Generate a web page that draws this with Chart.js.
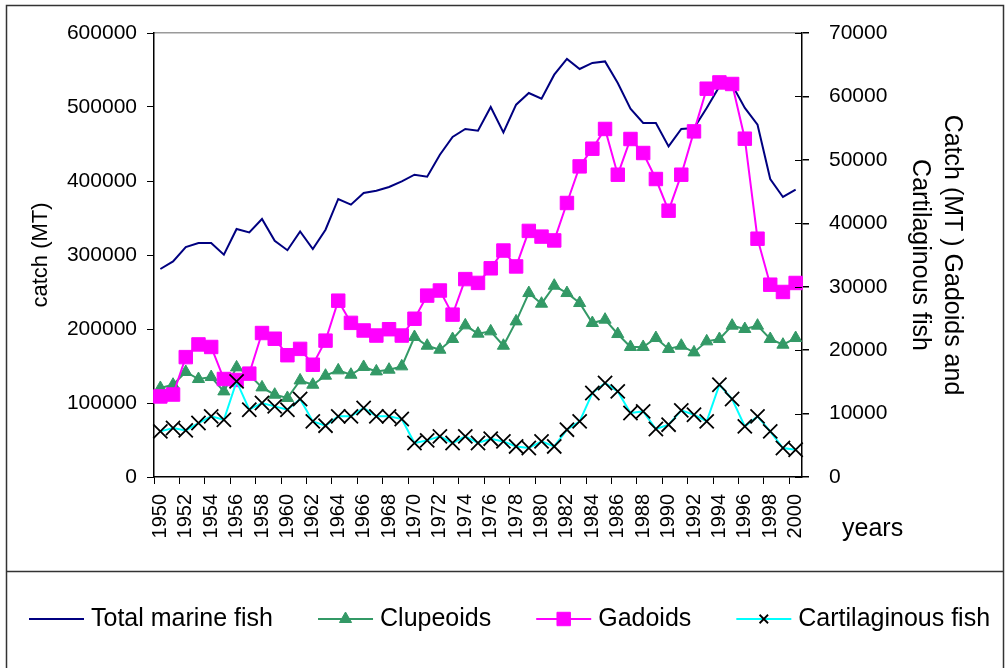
<!DOCTYPE html>
<html>
<head>
<meta charset="utf-8">
<script src="https://cdn.jsdelivr.net/npm/chart.js@4.4.1/dist/chart.umd.min.js"></script>
<style>
  html, body { margin: 0; padding: 0; background: #fff; }
  #wrap { width: 1006px; height: 668px; }
</style>
</head>
<body>
<div id="wrap"><canvas id="catch-chart" width="1006" height="668"></canvas></div>
<script>
// Catch per year
const years = ['1950', '1951', '1952', '1953', '1954', '1955', '1956', '1957', '1958', '1959',
               '1960', '1961', '1962', '1963', '1964', '1965', '1966', '1967', '1968', '1969',
               '1970', '1971', '1972', '1973', '1974', '1975', '1976', '1977', '1978', '1979',
               '1980', '1981', '1982', '1983', '1984', '1985', '1986', '1987', '1988', '1989',
               '1990', '1991', '1992', '1993', '1994', '1995', '1996', '1997', '1998', '1999',
               '2000'];

// left axis (MT)
const totalMarine = [281100, 291400, 310800, 316200, 316200, 300400, 335100, 330600, 348700, 319300,
                     306500, 331900, 308100, 334200, 375700, 368000, 383800, 386900, 391900, 399500,
                     408500, 405800, 435500, 459500, 470300, 468000, 500000, 465700, 503100, 518900,
                     511200, 543700, 564900, 551400, 559500, 561600, 532400, 497700, 478400, 478400,
                     446800, 470300, 471600, 498700, 527800, 530000, 498700, 476100, 402700, 378400,
                     388300];

const clupeoids = [120300, 124700, 141900, 132400, 135100, 115700, 148100, 138200, 121100, 111200,
                   106800, 130500, 124700, 136900, 144100, 138200, 148700, 142700, 145000, 149500,
                   189200, 177400, 172000, 186500, 204900, 193700, 196800, 177400, 210300, 248600,
                   234200, 258500, 248600, 235100, 208100, 212600, 193200, 175700, 175700, 187800,
                   173000, 177400, 168400, 183300, 186500, 204500, 200000, 204500, 186500, 178800,
                   187800];

// right axis (MT)
const gadoids = [12700, 13000, 18900, 20900, 20500, 15450, 15300, 16300, 22700, 21800,
                 19200, 20200, 17700, 21500, 27800, 24300, 23100, 22300, 23300, 22300,
                 24950, 28600, 29400, 25600, 31200, 30600, 32900, 35700, 33200, 38800,
                 37900, 37300, 43200, 48970, 51760, 54870, 47660, 53290, 51080, 46980,
                 41990, 47660, 54490, 61220, 62210, 61960, 53340, 37570, 30320, 29170,
                 30590];

const cartilaginous = [7190, 7720, 7350, 8510, 9560, 9030, 15070, 10610, 11670, 11130,
                       10610, 12300, 8770, 8090, 9560, 9560, 10880, 9560, 9560, 9140,
                       5360, 5770, 6400, 5360, 6400, 5360, 6040, 5610, 4820, 4570,
                       5610, 4820, 7460, 8770, 13240, 14820, 13500, 10090, 10340, 7570,
                       8250, 10500, 9820, 8770, 14550, 12300, 7980, 9560, 7190, 4570,
                       4300];

const leftTitle = 'catch (MT)';
const rightTitle = ['Catch (MT ) Gadoids and', 'Cartilaginous fish'];
const xTitle = 'years';

const FONT = '"Liberation Sans", Arial, sans-serif';

// frame, inner ticks on the right axis, "years" label and the legend box
const decorations = {
    id: 'decorations',
    beforeDraw(chart) {
        const ctx = chart.ctx;
        ctx.save();
        ctx.fillStyle = '#fff';
        ctx.fillRect(0, 0, chart.width, chart.height);
        ctx.restore();
    },
    afterDraw(chart) {
        const ctx = chart.ctx;
        const area = chart.chartArea;
        ctx.save();

        // outer frames
        ctx.strokeStyle = '#333';
        ctx.lineWidth = 1.5;
        ctx.strokeRect(6.5, 5.5, 997, 720);
        ctx.beginPath();
        ctx.moveTo(6, 571.5);
        ctx.lineTo(1004, 571.5);
        ctx.stroke();

        // right axis ticks cross the axis line
        const y1 = chart.scales.y1;
        ctx.strokeStyle = '#000';
        ctx.lineWidth = 1;
        y1.ticks.forEach(t => {
            const py = Math.round(y1.getPixelForValue(t.value)) + 0.5;
            ctx.beginPath();
            ctx.moveTo(area.right - 7, py);
            ctx.lineTo(area.right, py);
            ctx.stroke();
        });

        // x axis title sits right of the plot
        ctx.fillStyle = '#000';
        ctx.font = '25px ' + FONT;
        ctx.textAlign = 'left';
        ctx.textBaseline = 'alphabetic';
        ctx.fillText(xTitle, 842, 536);

        // legend
        let x = 29;
        const lineY = 619;
        chart.data.datasets.forEach(ds => {
            ctx.strokeStyle = ds.borderColor;
            ctx.lineWidth = ds.borderWidth;
            ctx.beginPath();
            ctx.moveTo(x, lineY);
            ctx.lineTo(x + 55, lineY);
            ctx.stroke();
            if (ds.pointRadius > 0) {
                ctx.fillStyle = ds.pointBackgroundColor;
                ctx.strokeStyle = ds.pointBorderColor;
                ctx.lineWidth = ds.pointBorderWidth;
                const r = ds.pointStyle === 'crossRot' ? 6 : ds.pointRadius;
                Chart.helpers.drawPoint(ctx, {
                    pointStyle: ds.pointStyle, radius: r, borderWidth: ds.pointBorderWidth, rotation: 0
                }, x + 27.5, lineY);
            }
            ctx.fillStyle = '#000';
            ctx.font = '25px ' + FONT;
            ctx.textBaseline = 'alphabetic';
            ctx.fillText(ds.label, x + 62, 626);
            x += 62 + ctx.measureText(ds.label).width + 45;
        });

        ctx.restore();
    }
};

const tickFont = { family: FONT, size: 21 };
const plainNumber = value => String(value);

new Chart(document.getElementById('catch-chart'), {
    type: 'line',
    data: {
        labels: years,
        datasets: [
            {
                label: 'Total marine fish',
                data: totalMarine,
                yAxisID: 'y',
                borderColor: '#000080',
                backgroundColor: '#000080',
                borderWidth: 2,
                pointRadius: 0,
                order: 4
            },
            {
                label: 'Clupeoids',
                data: clupeoids,
                yAxisID: 'y',
                borderColor: '#339966',
                backgroundColor: '#339966',
                borderWidth: 2,
                pointStyle: 'triangle',
                pointRadius: 7,
                pointBackgroundColor: '#339966',
                pointBorderColor: '#339966',
                pointBorderWidth: 1,
                order: 3
            },
            {
                label: 'Gadoids',
                data: gadoids,
                yAxisID: 'y1',
                borderColor: '#ff00ff',
                backgroundColor: '#ff00ff',
                borderWidth: 2,
                pointStyle: 'rect',
                pointRadius: 9.5,
                pointBackgroundColor: '#ff00ff',
                pointBorderColor: '#ff00ff',
                pointBorderWidth: 1,
                order: 2
            },
            {
                label: 'Cartilaginous fish',
                data: cartilaginous,
                yAxisID: 'y1',
                borderColor: '#00ffff',
                backgroundColor: '#00ffff',
                borderWidth: 2,
                pointStyle: 'crossRot',
                pointRadius: 10,
                pointBackgroundColor: '#000',
                pointBorderColor: '#000',
                pointBorderWidth: 1.8,
                order: 1
            }
        ]
    },
    options: {
        responsive: false,
        animation: false,
        layout: { padding: { top: 33, bottom: 97, left: 0, right: 0 } },
        plugins: {
            legend: { display: false },
            tooltip: { enabled: false }
        },
        scales: {
            x: {
                offset: true,
                grid: {
                    offset: true,
                    drawOnChartArea: false,
                    tickLength: 7,
                    color: ctx => (ctx.index % 2 === 0 ? '#000' : 'rgba(0,0,0,0)')
                },
                border: { color: '#000', width: 1.5 },
                ticks: {
                    autoSkip: false,
                    minRotation: 90,
                    maxRotation: 90,
                    padding: 10,
                    color: '#000',
                    font: { family: FONT, size: 20 },
                    callback: function(value, index) {
                        return index % 2 === 0 ? this.getLabelForValue(value) : '';
                    }
                },
                afterFit: scale => { scale.height = 94; }
            },
            y: {
                position: 'left',
                min: 0,
                max: 600000,
                ticks: { stepSize: 100000, padding: 10, color: '#000', font: tickFont, callback: plainNumber },
                grid: { drawOnChartArea: false, tickLength: 7, color: '#000' },
                border: { color: '#000', width: 1.5 },
                title: {
                    display: true,
                    text: leftTitle,
                    color: '#000',
                    font: { family: FONT, size: 22 },
                    padding: { top: 28, bottom: 0 }
                },
                afterFit: scale => { scale.width = 154; }
            },
            y1: {
                position: 'right',
                min: 0,
                max: 70000,
                ticks: { stepSize: 10000, padding: 20, color: '#000', font: tickFont, callback: plainNumber },
                grid: {
                    drawOnChartArea: true,
                    tickLength: 7,
                    tickColor: '#000',
                    lineWidth: 1.5,
                    color: ctx => (ctx.tick && ctx.tick.value === 70000 ? '#9a9a9a' : 'rgba(0,0,0,0)')
                },
                border: { color: '#000', width: 1.5 },
                title: {
                    display: true,
                    text: rightTitle,
                    color: '#000',
                    font: { family: FONT, size: 25, lineHeight: 1.28 },
                    padding: { top: 38, bottom: 0 }
                },
                afterFit: scale => { scale.width = 204; }
            }
        }
    },
    plugins: [decorations]
});
</script>
</body>
</html>
